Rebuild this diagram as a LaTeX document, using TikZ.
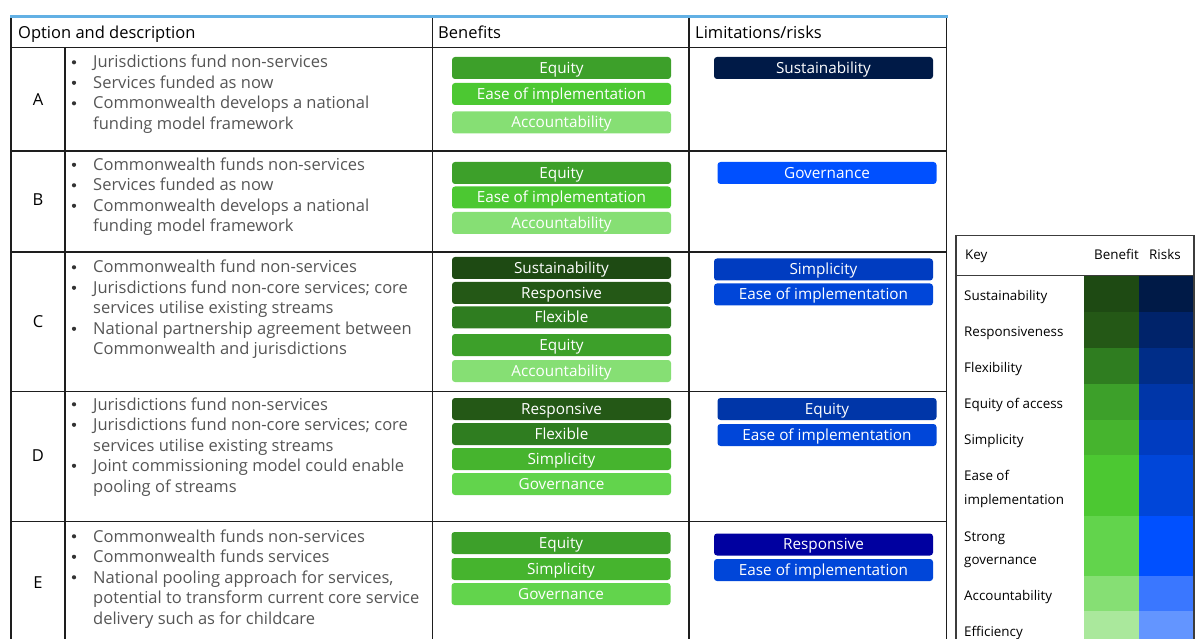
\documentclass[tikz,border=0pt]{standalone}
\usepackage{fontspec}
\setmainfont{Open Sans}
\definecolor{txtgray}{HTML}{555555}
\definecolor{gridc}{HTML}{1E1E1E}
\definecolor{keyline}{HTML}{3C3C3C}
\definecolor{topblue}{HTML}{62B0E4}
\definecolor{gSust}{HTML}{1E4A13}
\definecolor{gResp}{HTML}{245816}
\definecolor{gFlex}{HTML}{2F7D20}
\definecolor{gEqui}{HTML}{3DA02A}
\definecolor{gSimp}{HTML}{46B42E}
\definecolor{gEase}{HTML}{4CC832}
\definecolor{gGove}{HTML}{62D44C}
\definecolor{gAcco}{HTML}{86DF74}
\definecolor{gEffi}{HTML}{AAE89C}
\definecolor{bSust}{HTML}{001A47}
\definecolor{bResp}{HTML}{00236A}
\definecolor{bFlex}{HTML}{002D88}
\definecolor{bEqui}{HTML}{0036A8}
\definecolor{bSimp}{HTML}{003CC0}
\definecolor{bEase}{HTML}{0046D9}
\definecolor{bGove}{HTML}{0050FF}
\definecolor{bAcco}{HTML}{3A77FF}
\definecolor{bEffi}{HTML}{6395FF}
\definecolor{bRespPill}{HTML}{0000A0}
\begin{document}
\begin{tikzpicture}[x=1pt,y=-1pt,
  hdr/.style={anchor=base west,inner sep=0,font=\fontsize{16.5}{20}\selectfont,text=black},
  desc/.style={anchor=base west,inner sep=0,font=\fontsize{16.5}{20}\selectfont,text=txtgray},
  letter/.style={anchor=base,inner sep=0,font=\fontsize{16.5}{20}\selectfont,text=black},
  dot/.style={circle,fill=txtgray!60!black,inner sep=0,minimum size=4.2pt},
  pill/.style={rounded corners=3pt,minimum width=219pt,minimum height=22pt,inner sep=0,text=white,font=\fontsize{15.3}{15}\selectfont,text height=12pt,text depth=1.5pt},
  keytxt/.style={anchor=base west,inner sep=0,font=\fontsize{13.4}{16}\selectfont,text=black},
  gridline/.style={draw=gridc,line width=1.4pt}]
\useasboundingbox (0,0) rectangle (1195,639);

% top blue rule
\draw[topblue,line width=3pt] (10,17) -- (947.5,17);

% table grid
\foreach \x in {11,432.7,689,946.5} \draw[gridline] (\x,18.5) -- (\x,645);
\draw[gridline] (65,47.5) -- (65,645);
\foreach \y in {47.5,151,252,391.5,521.5} \draw[gridline] (11,\y) -- (946.5,\y);

% header
\node[hdr] (hOpt) at (18,38.5) {Option and description};
\node[hdr] (hBen) at (438,38.5) {Benefits};
\node[hdr] (hLim) at (695,38.5) {Limitations/risks};

% option letters
\node[letter] (lA) at (38,106) {A};
\node[letter] (lB) at (38,206) {B};
\node[letter] (lC) at (38,327) {C};
\node[letter] (lD) at (38,461) {D};
\node[letter] (lE) at (38,588) {E};

% row A description
\node[dot] (bA1) at (74,62.3) {};
\node[desc] (dA1) at (93,68) {Jurisdictions fund non-services};
\node[dot] (bA2) at (74,82.8) {};
\node[desc] (dA2) at (93,88.5) {Services funded as now};
\node[dot] (bA3) at (74,103.3) {};
\node[desc] (dA3) at (93,109) {Commonwealth develops a national};
\node[desc] (dA4) at (93,129.5) {funding model framework};

% row B description
\node[dot] (bB1) at (74,164.8) {};
\node[desc] (dB1) at (93,170.5) {Commonwealth funds non-services};
\node[dot] (bB2) at (74,185.3) {};
\node[desc] (dB2) at (93,191) {Services funded as now};
\node[dot] (bB3) at (74,205.8) {};
\node[desc] (dB3) at (93,211.5) {Commonwealth develops a national};
\node[desc] (dB4) at (93,232) {funding model framework};

% row C description
\node[dot] (bC1) at (74,267.3) {};
\node[desc] (dC1) at (93,273) {Commonwealth fund non-services};
\node[dot] (bC2) at (74,287.8) {};
\node[desc] (dC2) at (93,293.5) {Jurisdictions fund non-core services; core};
\node[desc] (dC3) at (93,314) {services utilise existing streams};
\node[dot] (bC4) at (74,328.8) {};
\node[desc] (dC4) at (93,334.5) {National partnership agreement between};
\node[desc] (dC5) at (93,355) {Commonwealth and jurisdictions};

% row D description
\node[dot] (bD1) at (74,404.3) {};
\node[desc] (dD1) at (93,410) {Jurisdictions fund non-services};
\node[dot] (bD2) at (74,424.8) {};
\node[desc] (dD2) at (93,430.5) {Jurisdictions fund non-core services; core};
\node[desc] (dD3) at (93,451) {services utilise existing streams};
\node[dot] (bD4) at (74,465.8) {};
\node[desc] (dD4) at (93,471.5) {Joint commissioning model could enable};
\node[desc] (dD5) at (93,492) {pooling of streams};

% row E description
\node[dot] (bE1) at (74,536.3) {};
\node[desc] (dE1) at (93,542) {Commonwealth funds non-services};
\node[dot] (bE2) at (74,556.8) {};
\node[desc] (dE2) at (93,562.5) {Commonwealth funds services};
\node[dot] (bE3) at (74,577.3) {};
\node[desc] (dE3) at (93,583) {National pooling approach for services,};
\node[desc] (dE4) at (93,603.5) {potential to transform current core service};
\node[desc] (dE5) at (93,624) {delivery such as for childcare};

% row A pills
\node[pill,fill=gEqui] (pA1) at (561.5,68) {Equity};
\node[pill,fill=gEase] (pA2) at (561.5,94) {Ease of implementation};
\node[pill,fill=gAcco] (pA3) at (561.5,122.5) {Accountability};
\node[pill,fill=bSust] (rA1) at (823.5,68) {Sustainability};

% row B pills
\node[pill,fill=gEqui] (pB1) at (561.5,173) {Equity};
\node[pill,fill=gEase] (pB2) at (561.5,197.5) {Ease of implementation};
\node[pill,fill=gAcco] (pB3) at (561.5,223) {Accountability};
\node[pill,fill=bGove] (rB1) at (827,173) {Governance};

% row C pills
\node[pill,fill=gSust] (pC1) at (561.5,268) {Sustainability};
\node[pill,fill=gResp] (pC2) at (561.5,293) {Responsive};
\node[pill,fill=gFlex] (pC3) at (561.5,317.5) {Flexible};
\node[pill,fill=gEqui] (pC4) at (561.5,345) {Equity};
\node[pill,fill=gAcco] (pC5) at (561.5,371) {Accountability};
\node[pill,fill=bSimp] (rC1) at (823.5,269.5) {Simplicity};
\node[pill,fill=bEase] (rC2) at (823.5,294.5) {Ease of implementation};

% row D pills
\node[pill,fill=gResp] (pD1) at (561.5,409) {Responsive};
\node[pill,fill=gFlex] (pD2) at (561.5,434) {Flexible};
\node[pill,fill=gSimp] (pD3) at (561.5,459) {Simplicity};
\node[pill,fill=gGove] (pD4) at (561.5,484) {Governance};
\node[pill,fill=bEqui] (rD1) at (827,409) {Equity};
\node[pill,fill=bEase] (rD2) at (827,435) {Ease of implementation};

% row E pills
\node[pill,fill=gEqui] (pE1) at (561,543) {Equity};
\node[pill,fill=gSimp] (pE2) at (561,569) {Simplicity};
\node[pill,fill=gGove] (pE3) at (561,594) {Governance};
\node[pill,fill=bRespPill] (rE1) at (823.5,544.5) {Responsive};
\node[pill,fill=bEase] (rE2) at (823.5,570) {Ease of implementation};

% key colour cells
\fill[gSust] (1084,276.5) rectangle (1139,311.7);
\fill[gResp] (1084,311.7) rectangle (1139,348.3);
\fill[gFlex] (1084,348.3) rectangle (1139,384);
\fill[gEqui] (1084,384) rectangle (1139,420);
\fill[gSimp] (1084,420) rectangle (1139,455);
\fill[gEase] (1084,455) rectangle (1139,515.7);
\fill[gGove] (1084,515.7) rectangle (1139,575.7);
\fill[gAcco] (1084,575.7) rectangle (1139,611);
\fill[gEffi] (1084,611) rectangle (1139,650);
\fill[bSust] (1139,276.5) rectangle (1194,311.7);
\fill[bResp] (1139,311.7) rectangle (1194,348.3);
\fill[bFlex] (1139,348.3) rectangle (1194,384);
\fill[bEqui] (1139,384) rectangle (1194,420);
\fill[bSimp] (1139,420) rectangle (1194,455);
\fill[bEase] (1139,455) rectangle (1194,515.7);
\fill[bGove] (1139,515.7) rectangle (1194,575.7);
\fill[bAcco] (1139,575.7) rectangle (1194,611);
\fill[bEffi] (1139,611) rectangle (1194,650);

% key frame
\draw[keyline,line width=1.4pt] (956,235.5) rectangle (1194,650);
\draw[keyline,line width=1.4pt] (956,275.5) -- (1194,275.5);

% key texts
\node[keytxt] (kH) at (965,260) {Key};
\node[keytxt] (kHB) at (1094,260) {Benefit};
\node[keytxt] (kHR) at (1149,260) {Risks};
\node[keytxt] (k1) at (964,301) {Sustainability};
\node[keytxt] (k2) at (964,337) {Responsiveness};
\node[keytxt] (k3) at (964,372) {Flexibility};
\node[keytxt] (k4) at (964,408) {Equity of access};
\node[keytxt] (k5) at (964,444) {Simplicity};
\node[keytxt] (k6a) at (964,480) {Ease of};
\node[keytxt] (k6b) at (964,504) {implementation};
\node[keytxt] (k7a) at (964,541) {Strong};
\node[keytxt] (k7b) at (964,564) {governance};
\node[keytxt] (k8) at (964,600) {Accountability};
\node[keytxt] (k9) at (964,636) {Efficiency};
\end{tikzpicture}
\end{document}
